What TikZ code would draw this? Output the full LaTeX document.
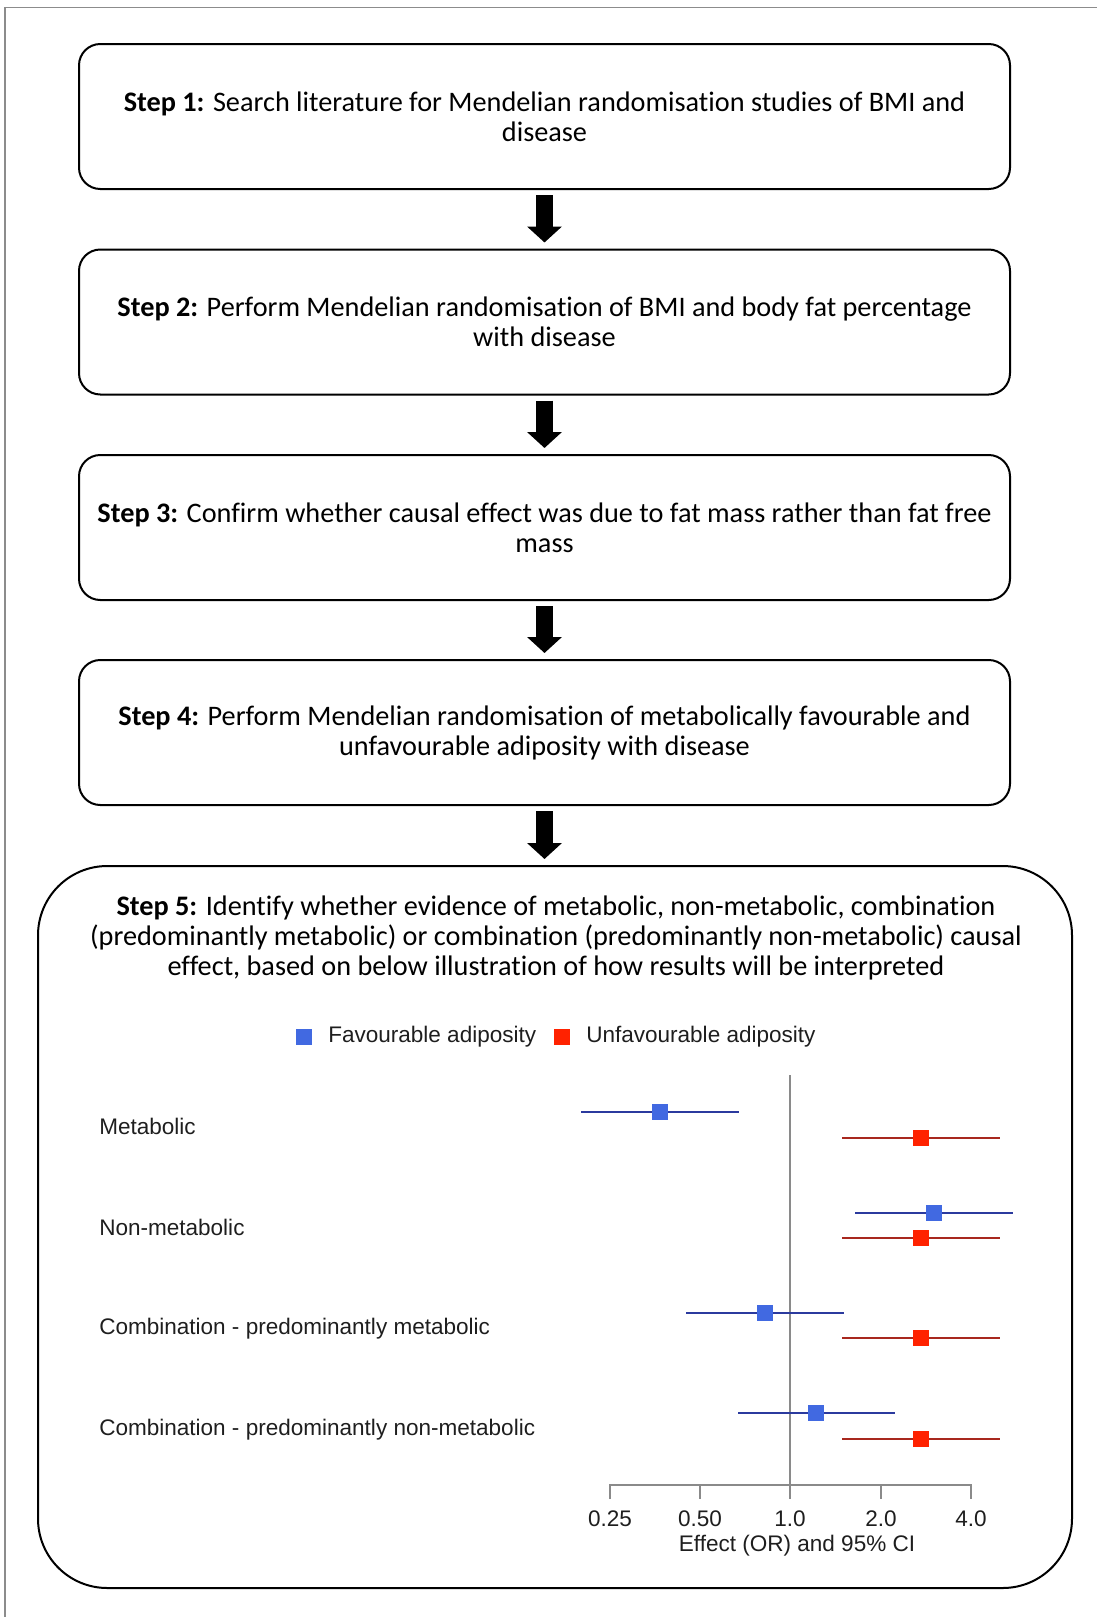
\documentclass[tikz,border=0pt]{standalone}
\usepackage{fontspec}
\setmainfont{Carlito}[RawFeature={-liga;-clig;-calt;-dlig}]
\newfontfamily\plotfont{Liberation Sans}
\usetikzlibrary{arrows.meta}
\definecolor{favsq}{HTML}{4169E1}
\definecolor{favln}{HTML}{2B3A9E}
\definecolor{unfsq}{HTML}{FF2200}
\definecolor{unfln}{HTML}{A8281E}
\definecolor{framegray}{HTML}{8C8C8C}
\definecolor{axgray}{HTML}{8A8A8A}
\definecolor{plottxt}{HTML}{1E1E1E}
\tikzset{
  stepbox/.style={draw=black, line width=1.5pt, rounded corners=16pt, minimum width=698.25pt, minimum height=108.75pt, inner sep=0pt, align=center, font=\fontsize{21.2}{22.5}\selectfont},
  bigbox/.style={draw=black, line width=1.5pt, rounded corners=52pt, minimum width=775.5pt, minimum height=541.5pt, inner sep=0pt},
  steptext/.style={inner sep=0pt, align=center, font=\fontsize{21.2}{22.5}\selectfont},
  blockarrow/.style={line width=12.75pt, -{Triangle[width=25.5pt,length=12pt]}, shorten <=3.75pt, shorten >=4.5pt},
  plottext/.style={inner sep=0pt, text=plottxt, font=\plotfont\fontsize{16.9}{19}\selectfont},
  legsq/.style={minimum size=12pt, inner sep=0pt},
  favline/.style={draw=favln, line width=1.6pt},
  unfline/.style={draw=unfln, line width=1.6pt},
}
\begin{document}
\begin{tikzpicture}[x=0.75pt,y=-0.75pt]
\useasboundingbox (0,0) rectangle (1097,1617);
% outer frame (top and left edges)
\draw[framegray, line width=0.9pt] (5,1617) -- (5,7.5) -- (1097,7.5);

% step boxes
\node[stepbox] (s1) at (544.5,116.5) {\textbf{Step 1:} Search literature for Mendelian randomisation studies of BMI and\\disease};
\node[stepbox] (s2) at (544.5,322) {\textbf{Step 2:} Perform Mendelian randomisation of BMI and body fat percentage\\with disease};
\node[stepbox] (s3) at (544.5,527.5) {\textbf{Step 3:} Confirm whether causal effect was due to fat mass rather than fat free\\mass};
\node[stepbox] (s4) at (544.5,732.5) {\textbf{Step 4:} Perform Mendelian randomisation of metabolically favourable and\\unfavourable adiposity with disease};
\node[bigbox] (s5) at (555,1227) {};
\node[steptext] (s5t) at (556,938) {\textbf{Step 5:} Identify whether evidence of metabolic, non-metabolic, combination\\(predominantly metabolic) or combination (predominantly non-metabolic) causal\\effect, based on below illustration of how results will be interpreted};

% arrows
\draw[blockarrow] (s1) -- (s2);
\draw[blockarrow] (s2) -- (s3);
\draw[blockarrow] (s3) -- (s4);
\draw[blockarrow] (s4.south) -- (s4.south |- s5.north);

% legend
\node[legsq, fill=favsq] (lfav) at (304,1037) {};
\node[plottext, anchor=west] (lfavt) at (328,1037) {Favourable adiposity};
\node[legsq, fill=unfsq] (lunf) at (562,1037) {};
\node[plottext, anchor=west] (lunft) at (586,1037) {Unfavourable adiposity};

% row labels
\node[plottext, anchor=west] (r1) at (99,1126) {Metabolic};
\node[plottext, anchor=west] (r2) at (99,1227) {Non-metabolic};
\node[plottext, anchor=west] (r3) at (99,1329) {Combination - predominantly metabolic};
\node[plottext, anchor=west] (r4) at (99,1430) {Combination - predominantly non-metabolic};

% reference line and axis
\draw[axgray, line width=0.9pt] (790,1075) -- (790,1485);
\draw[axgray, line width=0.9pt] (610,1499) -- (610,1485) -- (971,1485) -- (971,1499);
\foreach \x in {700,790,881} \draw[axgray, line width=0.9pt] (\x,1485) -- (\x,1499);
\node[plottext] (t1) at (610,1519) {0.25};
\node[plottext] (t2) at (700,1519) {0.50};
\node[plottext] (t3) at (790,1519) {1.0};
\node[plottext] (t4) at (881,1519) {2.0};
\node[plottext] (t5) at (971,1519) {4.0};
\node[plottext] (xlab) at (797,1546) {Effect (OR) and 95\% CI};

% estimates: favourable (blue)
\draw[favline] (581,1112) -- (739,1112);
\fill[favsq] (652,1104) rectangle (668,1120);
\draw[favline] (855,1213) -- (1013,1213);
\fill[favsq] (926,1205) rectangle (942,1221);
\draw[favline] (686,1313) -- (844,1313);
\fill[favsq] (757,1305) rectangle (773,1321);
\draw[favline] (738,1413) -- (895,1413);
\fill[favsq] (808,1405) rectangle (824,1421);
% estimates: unfavourable (red)
\foreach \y in {1138,1238,1338,1439} {
  \draw[unfline] (842,\y) -- (1000,\y);
  \fill[unfsq] (913,\y-8) rectangle (929,\y+8);
}
\end{tikzpicture}
\end{document}
